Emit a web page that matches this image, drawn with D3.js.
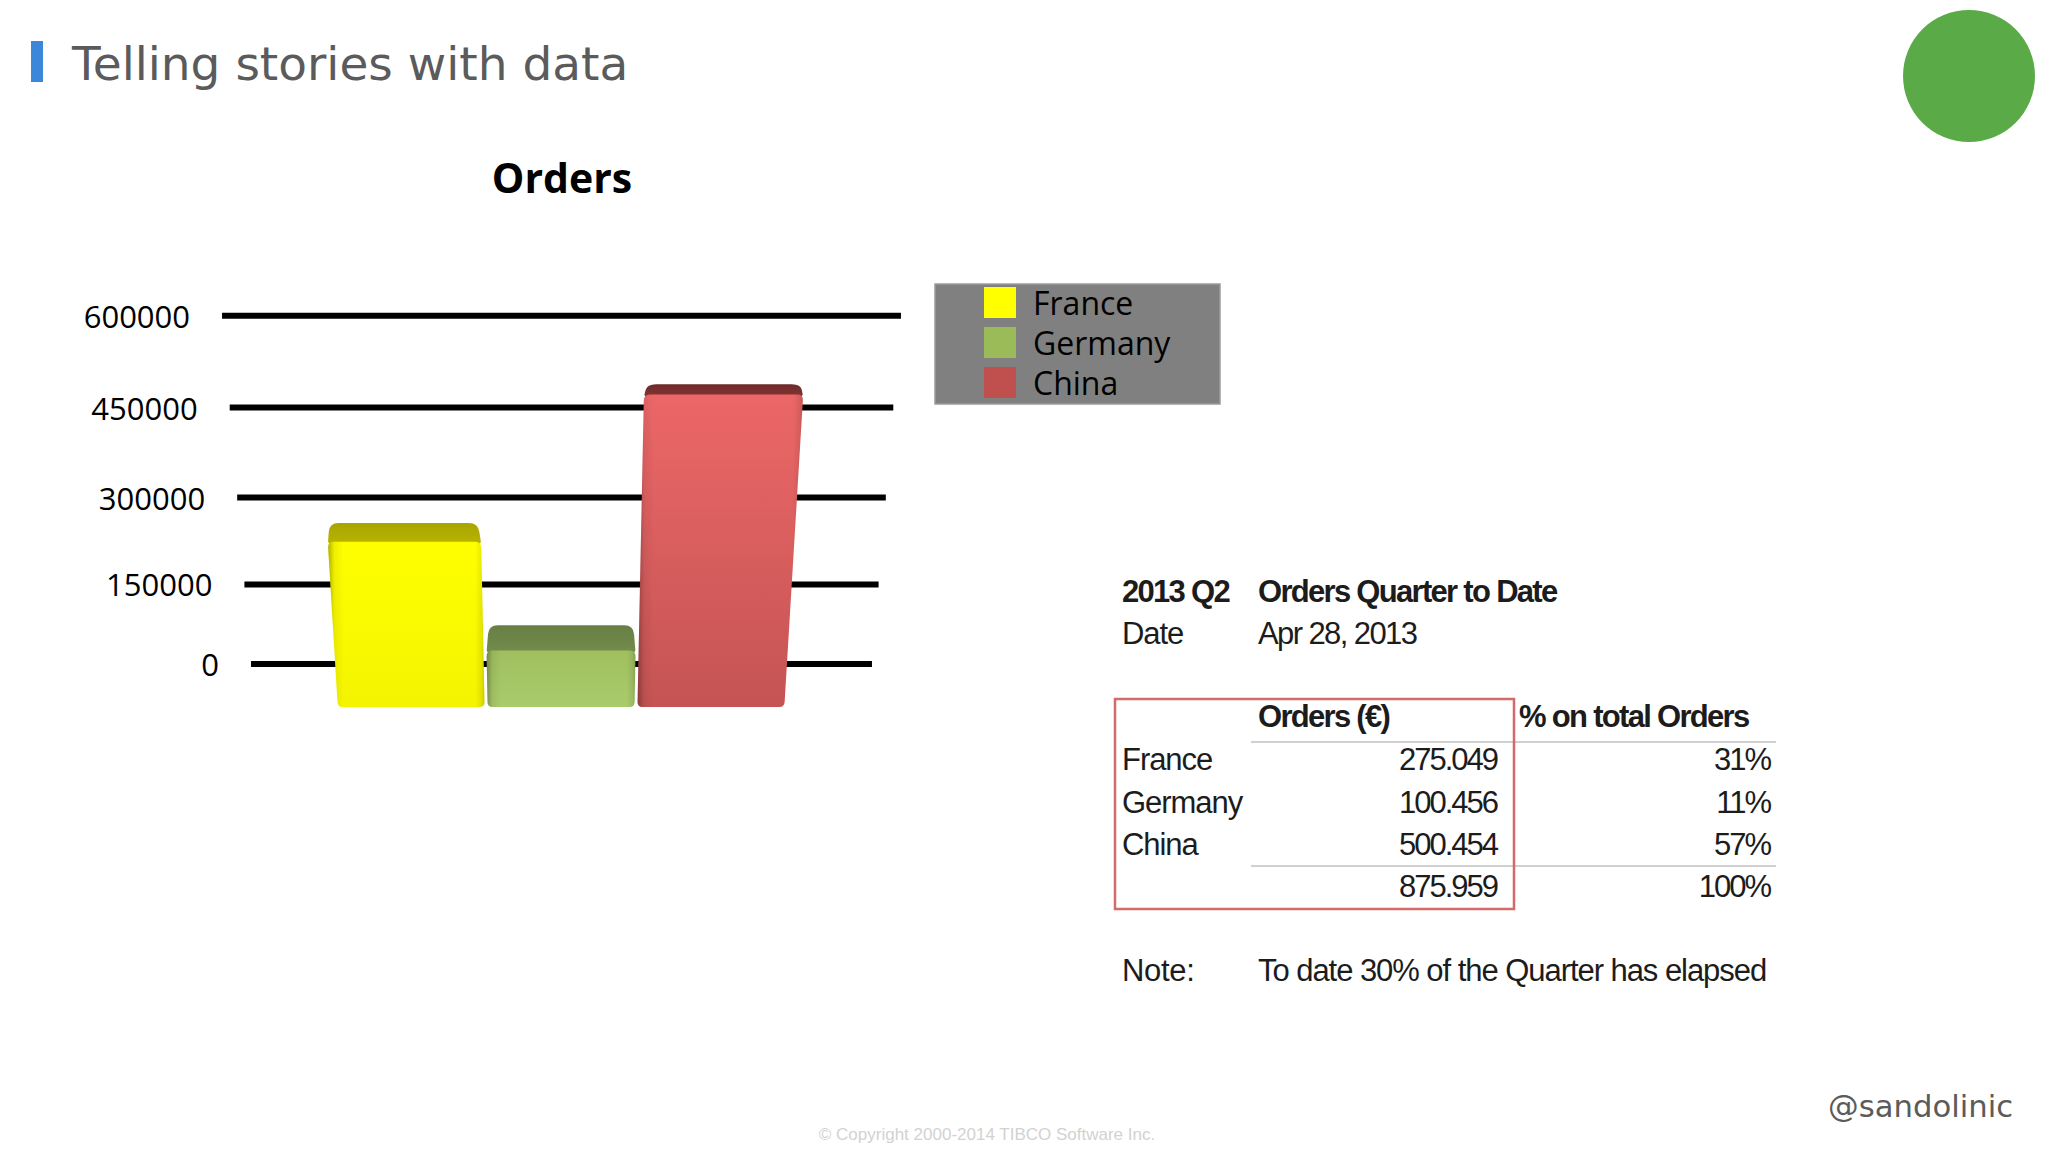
<!DOCTYPE html>
<html><head><meta charset="utf-8">
<script src="https://cdn.jsdelivr.net/npm/d3@7"></script>
<style>html,body{margin:0;padding:0;background:#fff;} svg{display:block}</style>
</head><body>
<svg id="c" width="2048" height="1152"></svg>
<script>
// ---------- data ----------
const countries = ["France", "Germany", "China"];
const orders = [275049, 100456, 500454];
const tickValues = [0, 150000, 300000, 450000, 600000];
const tickLabels = ["0", "150000", "300000", "450000", "600000"];
const legendColors = ["#ffff00", "#9bbb59", "#c0504d"];
const tableTitle = ["2013 Q2", "Orders Quarter to Date"];
const tableDate = ["Date", "Apr 28, 2013"];
const tableHeader = ["Orders (€)", "% on total Orders"];
const tableOrders = ["275.049", "100.456", "500.454"];
const tablePct = ["31%", "11%", "57%"];
const tableTotal = ["875.959", "100%"];
const tableNote = ["Note:", "To date 30% of the Quarter has elapsed"];

// ---------- styles ----------
const barStyles = [
  {top: "#ffff00", bottom: "#f4f400", lid1: "#a8a400", lid2: "#b9b500"},
  {top: "#a0c060", bottom: "#aacb6b", lid1: "#687f44", lid2: "#738b4c"},
  {top: "#ec6767", bottom: "#c55454", lid1: "#6f2929", lid2: "#833434"}
];

const svg = d3.select("#c");
const defs = svg.append("defs");

// header
svg.append("rect").attr("x", 31).attr("y", 41).attr("width", 12).attr("height", 41).attr("fill", "#3b87d9");
svg.append("text").attr("x", 72).attr("y", 80).text("Telling stories with data")
  .attr("font-family", "DejaVu Sans, Verdana, sans-serif").attr("font-size", 47).attr("fill", "#5b5b5b");
svg.append("circle").attr("cx", 1969).attr("cy", 76).attr("r", 66).attr("fill", "#5aab48");
svg.append("text").attr("x", 1828).attr("y", 1117).text("@sandolinic")
  .attr("font-family", "DejaVu Sans, Verdana, sans-serif").attr("font-size", 30.7).attr("fill", "#5b5b5b");
svg.append("text").attr("x", 987).attr("y", 1140).attr("text-anchor", "middle")
  .text("© Copyright 2000-2014 TIBCO Software Inc.")
  .attr("font-family", "Liberation Sans, Arial, sans-serif").attr("font-size", 17).attr("fill", "#d2d2d2");

// chart title
svg.append("text").attr("x", 562).attr("y", 193).attr("text-anchor", "middle").text("Orders")
  .attr("font-family", "Open Sans, sans-serif").attr("font-weight", 700).attr("font-size", 41).attr("fill", "#000");

// ---------- perspective helpers ----------
const cx = 561.5;
const persp = y => 1 - 0.000245 * (y - 315);
const P = (x, y) => cx + (x - cx) * persp(y);

const gy = d3.scalePow().exponent(1.065).domain([0, 600000]).range([664, 315.7]);
const by = d3.scalePow().exponent(1.065).domain([0, 600000]).range([707, 328]);
const bx = d3.scaleBand().domain(countries).range([314, 808]).paddingInner(0.02);
const worldL = 222, worldR = 901;
const floorY = 707;

// gridlines
const g = svg.append("g");
g.selectAll("line.grid").data(tickValues).join("line")
  .attr("x1", d => P(worldL, gy(d))).attr("x2", d => P(worldR, gy(d)))
  .attr("y1", d => gy(d)).attr("y2", d => gy(d))
  .attr("stroke", "#000").attr("stroke-width", 6);
g.selectAll("text.tick").data(tickValues).join("text")
  .attr("x", d => P(worldL, gy(d)) - 32).attr("y", d => gy(d) + 12)
  .attr("text-anchor", "end").text((d, i) => tickLabels[i])
  .attr("font-family", "Open Sans, sans-serif").attr("font-size", 31).attr("fill", "#000");

// rounded polygon path
function roundedPath(pts, radii) {
  const n = pts.length;
  let d = "";
  for (let i = 0; i < n; i++) {
    const p0 = pts[(i - 1 + n) % n], p1 = pts[i], p2 = pts[(i + 1) % n];
    const r = radii[i];
    const l1 = Math.hypot(p1[0] - p0[0], p1[1] - p0[1]);
    const l2 = Math.hypot(p2[0] - p1[0], p2[1] - p1[1]);
    const a = [p1[0] + (p0[0] - p1[0]) * Math.min(r / l1, 0.5), p1[1] + (p0[1] - p1[1]) * Math.min(r / l1, 0.5)];
    const b = [p1[0] + (p2[0] - p1[0]) * Math.min(r / l2, 0.5), p1[1] + (p2[1] - p1[1]) * Math.min(r / l2, 0.5)];
    d += (i === 0 ? "M" : "L") + a[0] + "," + a[1] + "Q" + p1[0] + "," + p1[1] + " " + b[0] + "," + b[1];
  }
  return d + "Z";
}

// gradients
barStyles.forEach((s, i) => {
  const v = defs.append("linearGradient").attr("id", "front" + i).attr("x1", 0).attr("y1", 0).attr("x2", 0).attr("y2", 1);
  v.append("stop").attr("offset", 0).attr("stop-color", s.top);
  v.append("stop").attr("offset", 1).attr("stop-color", s.bottom);
  const l = defs.append("linearGradient").attr("id", "lid" + i).attr("x1", 0).attr("y1", 0).attr("x2", 0).attr("y2", 1);
  l.append("stop").attr("offset", 0).attr("stop-color", s.lid1);
  l.append("stop").attr("offset", 1).attr("stop-color", s.lid2);
});
const sh = defs.append("linearGradient").attr("id", "shade").attr("x1", 0).attr("y1", 0).attr("x2", 1).attr("y2", 0);
[[0, 0.3], [0.04, 0.06], [0.1, 0], [0.94, 0], [0.98, 0.08], [1, 0.18]].forEach(([o, a]) =>
  sh.append("stop").attr("offset", o).attr("stop-color", "#000").attr("stop-opacity", a));

// bars
const barData = countries.map((c, i) => ({c, v: orders[i], i}));
const bars = svg.append("g").selectAll("g").data(barData).join("g");
bars.each(function (d) {
  const gg = d3.select(this);
  const L = bx(d.c), R = bx(d.c) + bx.bandwidth();
  const yT = by(d.v);
  const depth = Math.max(8, (yT - 215) * 0.058);
  const yK = yT - depth;
  const front = [[P(L, yT), yT], [P(R, yT), yT], [P(R, floorY), floorY], [P(L, floorY), floorY]];
  const lid = [[P(L + 3, yK), yK], [P(R - 3, yK), yK], [P(R, yT + 2), yT + 2], [P(L, yT + 2), yT + 2]];
  gg.append("path").attr("d", roundedPath(lid, [9, 9, 3, 3])).attr("fill", `url(#lid${d.i})`);
  gg.append("path").attr("d", roundedPath(front, [6, 6, 5, 5])).attr("fill", `url(#front${d.i})`);
  gg.append("path").attr("d", roundedPath(front, [6, 6, 5, 5])).attr("fill", "url(#shade)");
});

// legend
const lg = svg.append("g");
lg.append("rect").attr("x", 935).attr("y", 284).attr("width", 285).attr("height", 120)
  .attr("fill", "#808080").attr("stroke", "#9c9c9c").attr("stroke-width", 1.5);
const li = lg.selectAll("g.item").data(countries).join("g").attr("transform", (d, i) => `translate(984,${287 + i * 40})`);
li.append("rect").attr("width", 32).attr("height", 31).attr("fill", (d, i) => legendColors[i]);
li.append("text").attr("x", 49).attr("y", 28).text(d => d)
  .attr("font-family", "Open Sans, sans-serif").attr("font-size", 32).attr("fill", "#000");

// ---------- table ----------
const t = svg.append("g").attr("font-family", "Liberation Sans, Arial, Helvetica, sans-serif")
  .attr("font-size", 31).attr("letter-spacing", -1.05).attr("fill", "#1c1c1c");
const c1 = 1122, c2 = 1258, cNum = 1497, cPctL = 1519, cPct = 1770;
const bold = sel => sel.attr("font-weight", 700).attr("letter-spacing", -1.7);
const num = sel => sel.attr("letter-spacing", -2.0).attr("text-anchor", "end");
bold(t.append("text").attr("x", c1).attr("y", 602).text(tableTitle[0]));
bold(t.append("text").attr("x", c2).attr("y", 602).text(tableTitle[1]));
t.append("text").attr("x", c1).attr("y", 644).text(tableDate[0]);
t.append("text").attr("x", c2).attr("y", 644).attr("letter-spacing", -1.6).text(tableDate[1]);
bold(t.append("text").attr("x", c2).attr("y", 727).text(tableHeader[0]));
bold(t.append("text").attr("x", cPctL).attr("y", 727).text(tableHeader[1]));
t.append("line").attr("x1", 1251).attr("x2", 1776).attr("y1", 742).attr("y2", 742).attr("stroke", "#d0d0d0").attr("stroke-width", 2);
const rowY = d3.scalePoint().domain(countries).range([770, 855]);
t.selectAll("text.rn").data(countries).join("text").attr("x", c1).attr("y", d => rowY(d)).text(d => d);
num(t.selectAll("text.rv").data(countries).join("text").attr("x", cNum).attr("y", d => rowY(d))
  .text((d, i) => tableOrders[i]));
num(t.selectAll("text.rp").data(countries).join("text").attr("x", cPct).attr("y", d => rowY(d))
  .text((d, i) => tablePct[i]));
t.append("line").attr("x1", 1251).attr("x2", 1776).attr("y1", 866).attr("y2", 866).attr("stroke", "#d0d0d0").attr("stroke-width", 2);
num(t.append("text").attr("x", cNum).attr("y", 897).text(tableTotal[0]));
num(t.append("text").attr("x", cPct).attr("y", 897).text(tableTotal[1]));
t.append("rect").attr("x", 1115).attr("y", 699).attr("width", 399).attr("height", 210)
  .attr("fill", "none").attr("stroke", "#d46a6a").attr("stroke-width", 2.5);
t.append("text").attr("x", c1).attr("y", 981).attr("letter-spacing", -0.3).text(tableNote[0]);
t.append("text").attr("x", c2).attr("y", 981).text(tableNote[1]);
</script>
</body></html>
